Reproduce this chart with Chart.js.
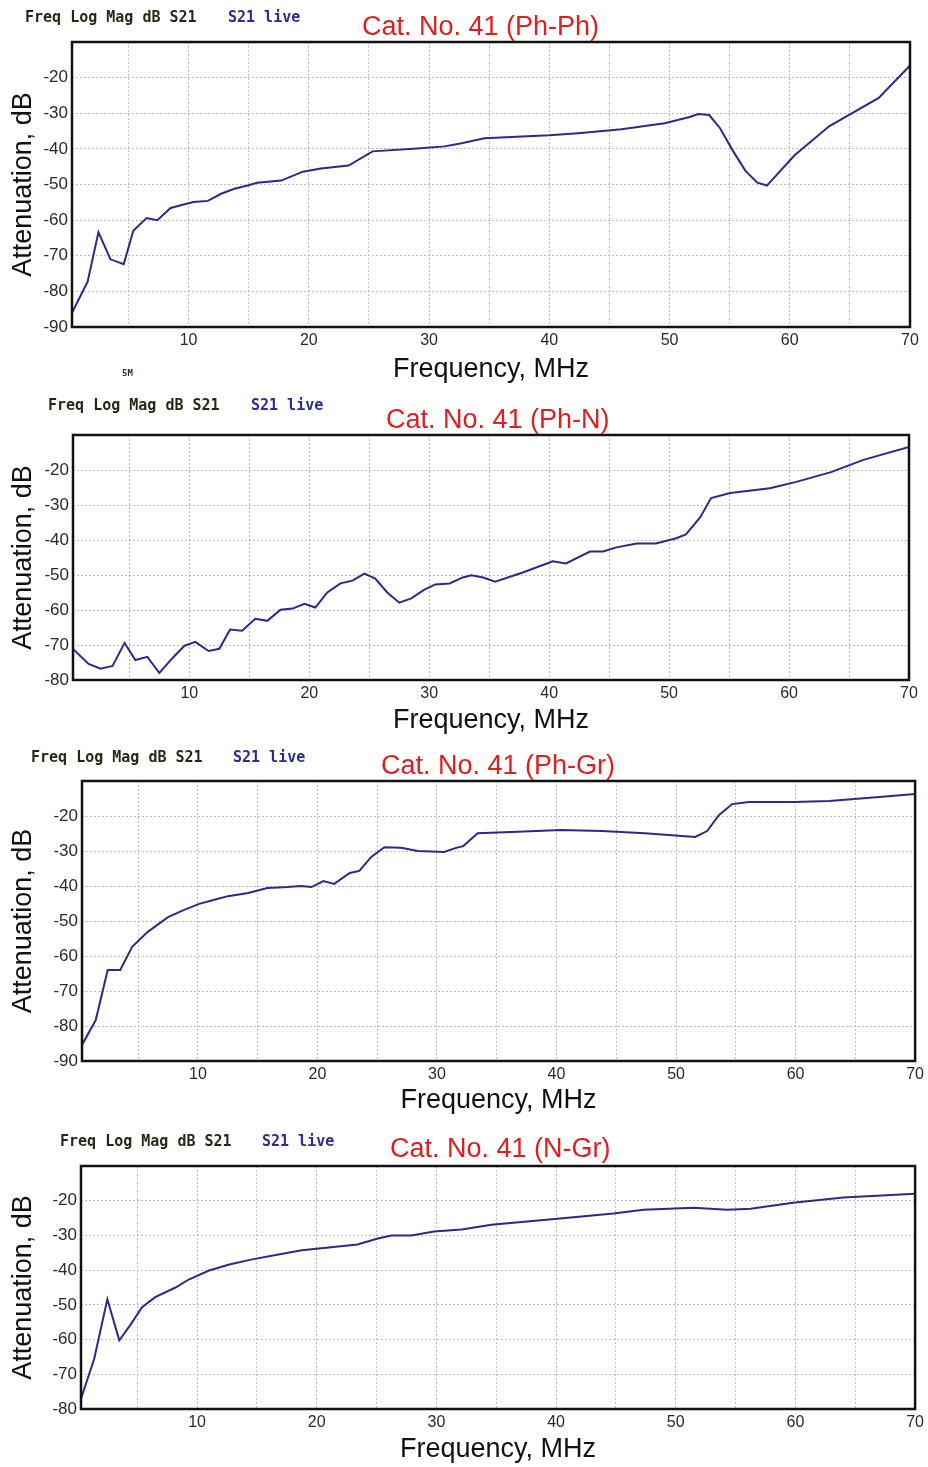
<!DOCTYPE html>
<html>
<head>
<meta charset="utf-8">
<script src="https://cdn.jsdelivr.net/npm/chart.js@4.4.1/dist/chart.umd.min.js"></script>
<style>
  html, body { margin: 0; padding: 0; background: #fff; }
  body { width: 928px; height: 1467px; position: relative; overflow: hidden; }
  canvas { position: absolute; left: 0; }
  .head { position: absolute; font: bold 15px "DejaVu Sans Mono", monospace; color: #1e2a14; line-height: 18px; white-space: pre; z-index: 2; }
  .live { color: #2c2c90; }
  .ttl { position: absolute; font: 27px "Liberation Sans", Arial, sans-serif; color: #dd1f1f; line-height: 30px; white-space: nowrap; z-index: 2; }
  .tiny { position: absolute; font: bold 9px "DejaVu Sans Mono", monospace; color: #2a3a20; z-index: 2; }
</style>
</head>
<body>

<div class="head" style="left:25px; top:8px;">Freq Log Mag dB S21</div>
<div class="head live" style="left:228px; top:8px;">S21 live</div>
<div class="ttl" style="left:362px; top:11px;">Cat. No. 41 (Ph-Ph)</div>
<div class="tiny" style="left:122px; top:368px;">5M</div>
<canvas id="chartPhPh"></canvas>

<div class="head" style="left:48px; top:396px;">Freq Log Mag dB S21</div>
<div class="head live" style="left:251px; top:396px;">S21 live</div>
<div class="ttl" style="left:386px; top:404px;">Cat. No. 41 (Ph-N)</div>
<canvas id="chartPhN"></canvas>

<div class="head" style="left:31px; top:748px;">Freq Log Mag dB S21</div>
<div class="head live" style="left:233px; top:748px;">S21 live</div>
<div class="ttl" style="left:381px; top:750px;">Cat. No. 41 (Ph-Gr)</div>
<canvas id="chartPhGr"></canvas>

<div class="head" style="left:60px; top:1132px;">Freq Log Mag dB S21</div>
<div class="head live" style="left:262px; top:1132px;">S21 live</div>
<div class="ttl" style="left:390px; top:1133px;">Cat. No. 41 (N-Gr)</div>
<canvas id="chartNGr"></canvas>

<script>
// eixo X (MHz) e ticks
const xMin = 0.3;
const xMax = 70;
const xGridTicks = [5, 10, 15, 20, 25, 30, 35, 40, 45, 50, 55, 60, 65, 70];
const yTicks90 = [-90, -80, -70, -60, -50, -40, -30, -20];
const yTicks80 = [-80, -70, -60, -50, -40, -30, -20];
const yMax = -10;

// Ph-Ph
const freqPhPh = [0.3, 1.6, 2.5, 3.5, 4.6, 5.4, 6.5, 7.4, 8.5, 9.5, 10.4, 11.6, 12.7, 13.8, 14.9, 15.7, 16.6, 17.7,
  19.5, 21, 23.3, 25.3, 29, 31.3, 32.7, 34.6, 40, 42.4, 46, 49.6, 51.6, 52.4, 53.3, 54.2, 55.3, 56.3, 57.3, 58.1,
  60.4, 63.3, 67.4, 70];
const attPhPh = [-86, -77.3, -63.4, -71, -72.4, -63, -59.4, -60, -56.6, -55.7, -54.9, -54.6, -52.6, -51.2, -50.3, -49.5, -49.2, -48.9,
  -46.4, -45.5, -44.7, -40.7, -39.9, -39.3, -38.4, -37, -36.2, -35.6, -34.5, -32.8, -31.1, -30.2, -30.5, -34.2, -40.7, -46.1, -49.5, -50.3,
  -41.8, -33.6, -25.7, -16.6];

// Ph-N
const freqPhN = [0.3, 1.6, 2.6, 3.6, 4.6, 5.5, 6.5, 7.5, 8.6, 9.6, 10.5, 11.6, 12.5, 13.4, 14.4, 15.5, 16.5, 17.6, 18.6, 19.6,
  20.5, 21.5, 22.6, 23.6, 24.6, 25.5, 26.5, 27.5, 28.5, 29.6, 30.5, 31.7, 32.8, 33.5, 34.5, 35.5, 37.8, 40.3, 41.4, 43.4,
  44.5, 45.6, 47.3, 48.9, 50.6, 51.4, 52.6, 53.5, 55.1, 58.4, 60.6, 63.5, 66.2, 70];
const attPhN = [-71.1, -75.4, -76.8, -76, -69.4, -74.3, -73.4, -78, -73.7, -70.2, -69.1, -71.7, -71.1, -65.6, -65.9, -62.5, -63.1, -59.9, -59.6, -58.2,
  -59.3, -55, -52.4, -51.6, -49.6, -51, -55, -57.9, -56.7, -54.2, -52.7, -52.4, -50.7, -50.1, -50.7, -51.9, -49.3, -46.1, -46.7, -43.3,
  -43.3, -42.1, -41, -41, -39.5, -38.4, -33.5, -28, -26.6, -25.2, -23.4, -20.6, -17.1, -13.4];

// Ph-Gr
const freqPhGr = [0.3, 1.45, 2.45, 3.5, 4.5, 5.8, 7.5, 8.8, 10.1, 11.3, 12.5, 14.2, 15.8, 17.5, 18.6, 19.5, 20.5, 21.4, 22.7, 23.5,
  24.5, 25.6, 27, 28.4, 30.6, 31.6, 32.2, 33.4, 36.2, 40.4, 43.8, 47.4, 51.6, 52.6, 53.6, 54.7, 56.1, 59.9, 62.8, 67, 70];
const attPhGr = [-85.4, -78.3, -64, -64, -57.4, -53.1, -48.9, -46.9, -45.1, -44, -42.9, -42, -40.6, -40.3, -40, -40.3, -38.6, -39.4, -36.3, -35.7,
  -31.7, -28.9, -29.1, -30, -30.3, -29.1, -28.6, -24.9, -24.6, -24, -24.3, -24.9, -26, -24.3, -19.7, -16.6, -16, -16, -15.7, -14.6, -13.7];

// N-Gr
const freqNGr = [0.3, 1.4, 2.5, 3.5, 4.4, 5.4, 6.5, 8.2, 9.3, 11, 12.7, 14.6, 16.8, 18.75, 21, 23.4, 25.1, 26.25, 27.9, 29.8,
  32.1, 34.6, 40.1, 44.8, 47.3, 51.5, 54.3, 56.25, 59.8, 64, 70];
const attNGr = [-77, -65.6, -48.4, -60.2, -55.9, -50.7, -47.8, -45, -42.7, -40.1, -38.4, -36.9, -35.5, -34.3, -33.5, -32.6, -30.9, -30, -30, -28.9,
  -28.3, -26.9, -25.2, -23.7, -22.6, -22, -22.6, -22.3, -20.6, -19.1, -18];

const lineColor = '#2a2a8a';
const gridColor = '#bcbcbc';
const fontFamily = '"Liberation Sans", Arial, sans-serif';

// moldura preta em volta da área do gráfico
const frame = {
  id: 'frame',
  afterDraw(chart) {
    const { ctx, chartArea: a } = chart;
    ctx.save();
    ctx.strokeStyle = '#111';
    ctx.lineWidth = 2.5;
    ctx.strokeRect(a.left, a.top, a.right - a.left, a.bottom - a.top);
    ctx.restore();
  }
};

function makeChart(id, freq, att, yTicks, box) {
  const canvas = document.getElementById(id);
  canvas.width = 928;
  canvas.height = box.height;
  canvas.style.top = box.top + 'px';
  const points = freq.map((f, i) => ({ x: f, y: att[i] }));

  return new Chart(canvas, {
    type: 'line',
    data: {
      datasets: [{
        data: points,
        borderColor: lineColor,
        borderWidth: 2,
        pointRadius: 0,
        tension: 0,
        fill: false
      }]
    },
    options: {
      responsive: false,
      animation: false,
      layout: { padding: { left: 0, right: 928 - box.right, top: box.plotTop - box.top, bottom: 0 } },
      plugins: { legend: { display: false }, tooltip: { enabled: false } },
      scales: {
        x: {
          type: 'linear',
          min: xMin,
          max: xMax,
          afterBuildTicks: s => { s.ticks = xGridTicks.map(v => ({ value: v })); },
          afterFit: s => { s.height = box.top + box.height - box.plotBottom; },
          ticks: {
            autoSkip: false,
            maxRotation: 0,
            padding: 4,
            color: '#2a2a2a',
            font: { family: fontFamily, size: 16 },
            callback: v => (v % 10 === 0 ? String(v) : '')
          },
          grid: { color: gridColor, drawTicks: false },
          border: { display: false, dash: [2, 2] },
          title: { display: true, text: 'Frequency, MHz', color: '#111', font: { family: fontFamily, size: 27 }, padding: 0 }
        },
        y: {
          min: yTicks[0],
          max: yMax,
          afterBuildTicks: s => { s.ticks = yTicks.map(v => ({ value: v })); },
          afterFit: s => { s.width = box.left; },
          ticks: {
            padding: 4,
            color: '#2a2a2a',
            font: { family: fontFamily, size: 17 },
            callback: v => String(v)
          },
          grid: { color: gridColor, drawTicks: false },
          border: { display: false, dash: [2, 2] },
          title: { display: true, text: 'Attenuation, dB', color: '#111', font: { family: fontFamily, size: 27 }, padding: { top: 7, bottom: 0 } }
        }
      }
    },
    plugins: [frame]
  });
}

makeChart('chartPhPh', freqPhPh, attPhPh, yTicks90, { top: 0, height: 386, plotTop: 42, plotBottom: 327, left: 72, right: 910 });
makeChart('chartPhN', freqPhN, attPhN, yTicks80, { top: 390, height: 347, plotTop: 435, plotBottom: 680, left: 73, right: 909 });
makeChart('chartPhGr', freqPhGr, attPhGr, yTicks90, { top: 740, height: 377, plotTop: 781, plotBottom: 1061, left: 82, right: 919 });
makeChart('chartNGr', freqNGr, attNGr, yTicks80, { top: 1120, height: 346, plotTop: 1166, plotBottom: 1409, left: 81, right: 918 });
</script>
</body>
</html>
